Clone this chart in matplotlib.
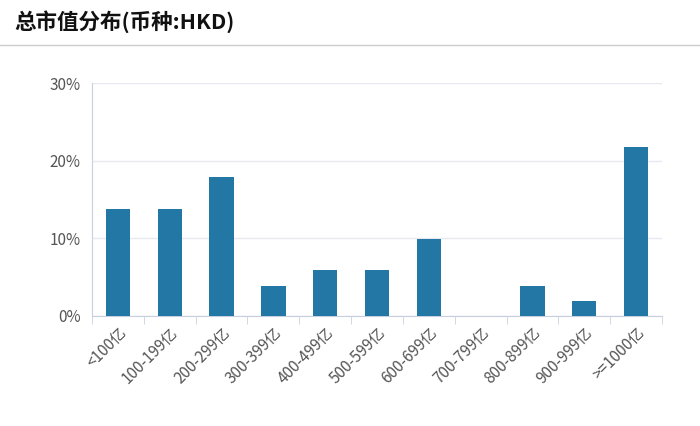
import matplotlib.pyplot as plt
from matplotlib.lines import Line2D

plt.rcParams['font.family'] = ['Noto Sans CJK SC', 'DejaVu Sans']

categories = ["<100亿", "100-199亿", "200-299亿", "300-399亿", "400-499亿", "500-599亿",
              "600-699亿", "700-799亿", "800-899亿", "900-999亿", ">=1000亿"]
values = [13.8, 13.8, 17.9, 3.9, 5.9, 5.9, 9.9, 0, 3.9, 1.9, 21.8]

fig = plt.figure(figsize=(7, 4.26), dpi=100)
ax = fig.add_axes([92 / 700, 1 - 316 / 426, 570 / 700, 233 / 426])

x = range(len(categories))
ax.bar(x, values, width=0.47, color="#2277a4", zorder=3)
ax.set_xlim(-0.5, len(categories) - 0.5)
ax.set_ylim(0, 30)
ax.set_yticks([0, 10, 20, 30])
ax.set_yticklabels(["0%", "10%", "20%", "30%"], color="#555555", fontsize=11)
ax.set_xticks(list(x))
ax.set_xticklabels(categories, rotation=45, ha="right", rotation_mode="anchor",
                   color="#555555", fontsize=11)
ax.set_xticks([i - 0.5 for i in range(len(categories) + 1)], minor=True)
ax.tick_params(axis="x", which="major", length=0, pad=6)
ax.tick_params(axis="x", which="minor", length=6, color="#c8d0e0")
ax.tick_params(axis="y", length=0, pad=8)
ax.grid(axis="y", color="#e6e9f0", linewidth=1, zorder=0)
for s in ["top", "right"]:
    ax.spines[s].set_visible(False)
ax.spines["left"].set_color("#c8d0e0")
ax.spines["bottom"].set_color("#c8d0e0")

fig.text(14 / 700, 1 - 22 / 426, "总市值分布(币种:HKD)", fontsize=15.5, fontweight="bold",
         va="center", ha="left", color="#111111")
fig.add_artist(Line2D([0, 1], [1 - 45 / 426] * 2, color="#cccccc", linewidth=1))

fig.savefig("out.png", dpi=100)
